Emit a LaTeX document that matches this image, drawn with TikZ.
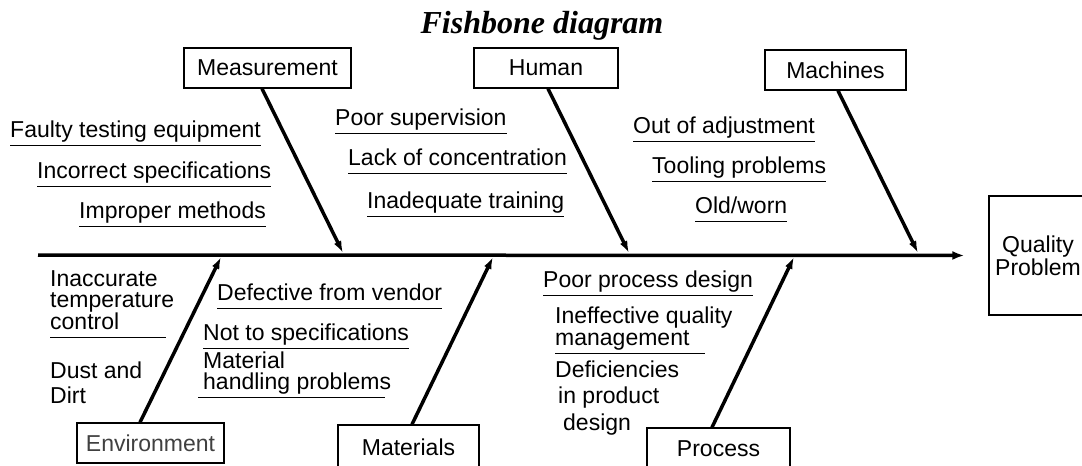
\documentclass[tikz,border=0pt]{standalone}
\usepackage{fontspec}
\setmainfont{Liberation Sans}
\newfontfamily\titlefont{Liberation Serif}
\usetikzlibrary{arrows.meta}

\begin{document}
\begin{tikzpicture}[
    x=1pt, y=-1pt,
    every node/.style={font=\fontsize{23}{24}\selectfont},
    cat/.style={rectangle, draw, line width=1.3pt, inner sep=0pt, minimum height=40pt},
    cause/.style={anchor=base west, inner xsep=0pt, inner ysep=2.5pt, text depth=6pt, align=left},
    uline/.style={line width=1.1pt},
    bone/.style={line width=3.5pt, -{Latex[length=12pt, width=8pt]}},
    spine/.style={line width=3.5pt, -{Latex[length=12pt, width=9pt]}, shorten >=24pt}
]
\useasboundingbox (0,0) rectangle (1082,466);
\clip (0,0) rectangle (1082,466);

\node[font=\titlefont\fontsize{32}{34}\selectfont\bfseries\itshape, anchor=base] (title) at (542,33) {Fishbone diagram};

% categories and effect
\node[cat, minimum width=167pt] (meas) at (267.5,68) {Measurement};
\node[cat, minimum width=144pt] (human) at (546,68) {Human};
\node[cat, minimum width=141pt] (mach) at (835.5,70) {Machines};
\node[cat, minimum width=147pt, text=black!75] (env) at (150.5,443) {Environment};
\node[cat, minimum width=141pt, minimum height=44pt] (mat) at (408.5,447) {Materials};
\node[cat, minimum width=143pt, minimum height=42pt] (proc) at (718.5,449) {Process};
\node[cat, minimum width=98pt, minimum height=119pt, align=center] (effect) at (1038,255.5) {Quality\\[-1pt]Problem};

% spine
\coordinate (tail) at (38,255);
\coordinate (mJ) at (343,253);
\coordinate (hJ) at (629,253);
\coordinate (cJ) at (918,253);
\coordinate (eJ) at (221,257);
\coordinate (tJ) at (493,257);
\coordinate (pJ) at (794,257);
\draw[spine] (tail) -- (effect.west);

\draw[bone] ([xshift=-5.5pt]meas.south) -- (mJ);
\draw[bone] ([xshift=2pt]human.south) -- (hJ);
\draw[bone] ([xshift=2.5pt]mach.south) -- (cJ);
\draw[bone] ([xshift=-10.5pt]env.north) -- (eJ);
\draw[bone] ([xshift=3.5pt]mat.north) -- (tJ);
\draw[bone] ([xshift=-6.5pt]proc.north) -- (pJ);

% causes
\node[cause] (m1) at (10,137) {Faulty testing equipment};
\node[cause] (m2) at (37,178) {Incorrect specifications};
\node[cause] (m3) at (79,218) {Improper methods};
\node[cause] (h1) at (335,125) {Poor supervision};
\node[cause] (h2) at (348,165) {Lack of concentration};
\node[cause] (h3) at (367,208) {Inadequate training};
\node[cause] (c1) at (633,133) {Out of adjustment};
\node[cause] (c2) at (652,173) {Tooling problems};
\node[cause] (c3) at (695,213) {Old/worn};
\node[cause] (e1) at (50,329) {Inaccurate\\[-2.5pt]temperature\\[-2.5pt]control};
\node[cause] (e2) at (50,403) {Dust and\\[1pt]Dirt};
\node[cause] (t1) at (217,300) {Defective from vendor};
\node[cause] (t2) at (203,340) {Not to specifications};
\node[cause] (t3) at (203,389) {Material\\[-3pt]handling problems};
\node[cause] (p1) at (543,287) {Poor process design};
\node[cause] (p2) at (555,345) {Ineffective quality\\[-2pt]management};
\node[cause] (p3) at (555,430) {Deficiencies\\[2.5pt]\hspace*{3pt}in product\\[2.5pt]\hspace*{8pt}design};

\draw[uline] (m1.south west) -- (m1.south east);
\draw[uline] (m2.south west) -- (m2.south east);
\draw[uline] (m3.south west) -- (m3.south east);
\draw[uline] (h1.south west) -- (h1.south east);
\draw[uline] (h2.south west) -- (h2.south east);
\draw[uline] (h3.south west) -- (h3.south east);
\draw[uline] (c1.south west) -- (c1.south east);
\draw[uline] (c2.south west) -- (c2.south east);
\draw[uline] (c3.south west) -- (c3.south east);
\draw[uline] (e1.south west) -- ([xshift=-8pt]e1.south east);
\draw[uline] (t1.south west) -- (t1.south east);
\draw[uline] (t2.south west) -- (t2.south east);
\draw[uline] ([xshift=-5pt]t3.south west) -- ([xshift=-6pt]t3.south east);
\draw[uline] (p1.south west) -- (p1.south east);
\draw[uline] (p2.south west) -- ([xshift=-28pt]p2.south east);
\end{tikzpicture}
\end{document}
